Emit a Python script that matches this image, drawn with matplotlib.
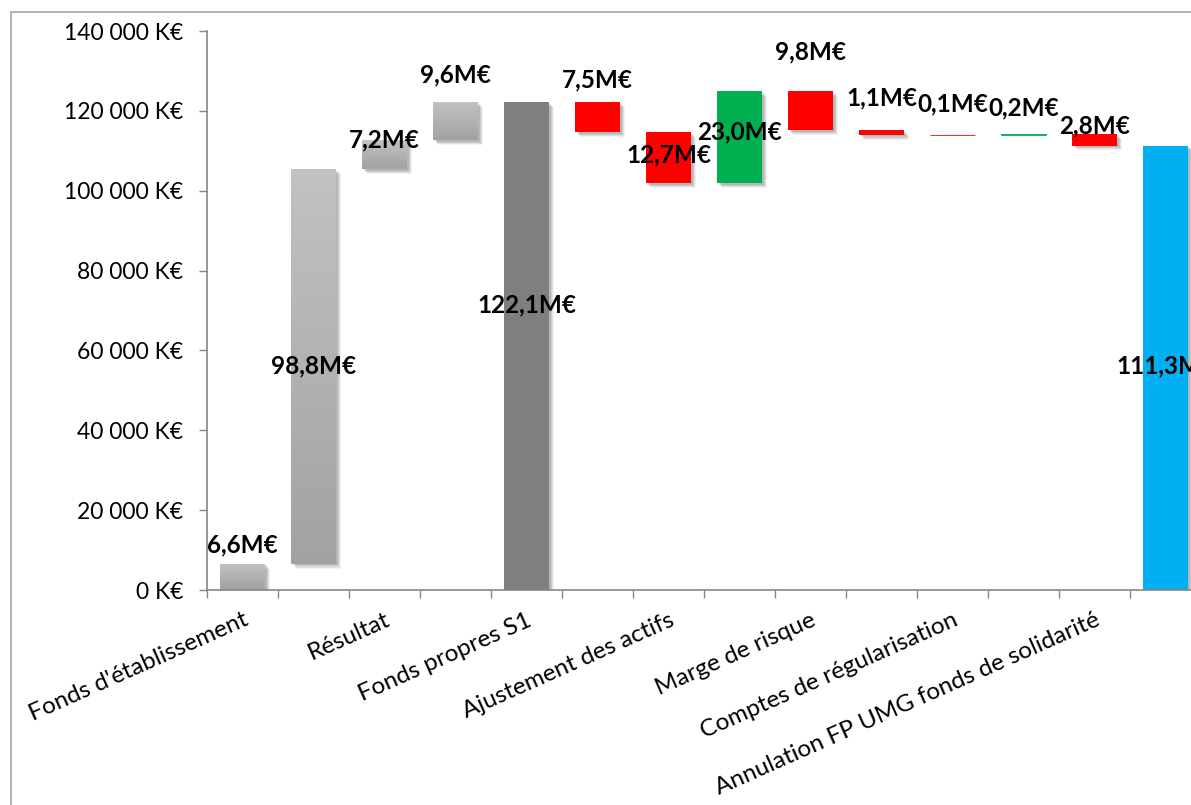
import numpy as np
import matplotlib.pyplot as plt
import matplotlib.patheffects as pe
from matplotlib.colors import LinearSegmentedColormap
from matplotlib.patches import Rectangle
from matplotlib.ticker import FuncFormatter, MultipleLocator

plt.rcParams['font.family'] = ['Lato', 'DejaVu Sans']

# waterfall steps, in K€ (two totals: "Fonds propres S1" and the final one)
categories = ["Fonds d'établissement", "", "Résultat", "", "Fonds propres S1", "",
              "Ajustement des actifs", "", "Marge de risque", "",
              "Comptes de régularisation", "", "Annulation FP UMG fonds de solidarité", ""]
values = [6600, 98800, 7200, 9600, 122100, -7500, -12700, 23000, -9800, -1100,
          -100, 200, -2800, 111300]
is_total = [False, False, False, False, True, False, False, False, False, False,
            False, False, False, True]
# vertical position of each value label, K€
label_y = [11300, 56100, 112700, 129000, 71400, 127700, 109000, 114700, 134700,
           123200, 121700, 120700, 116200, 56100]

fills = ['gray', 'gray', 'gray', 'gray', '#7f7f7f', '#ff0000', '#ff0000', '#00b050',
         '#ff0000', '#ff0000', '#ff0000', '#00b050', '#ff0000', '#00b0f0']

W, H = 1191, 805
fig = plt.figure(figsize=(W / 100, H / 100), dpi=100)
ax = fig.add_axes([207 / W, 1 - 590 / H, 994 / W, 559 / H])

# outer chart frame
fig.patches.append(Rectangle((11 / W, -0.05), 1.2, 1 - 12 / H + 0.05, transform=fig.transFigure,
                             fill=False, edgecolor='#a6a6a6', lw=1.2, zorder=0))

shadow = [pe.SimplePatchShadow(offset=(d, -d), shadow_rgbFace='k', alpha=a)
          for d, a in [(3.5, 0.05), (2.8, 0.07), (2.0, 0.09), (1.2, 0.1)]] + [pe.Normal()]

grey_cmap = LinearSegmentedColormap.from_list('grey_fill', ['#a2a2a2', '#c2c2c2'])
grad = np.linspace(0, 1, 64).reshape(-1, 1)
running = 0
for i, v in enumerate(values):
    if is_total[i]:
        bottom, height = 0, v
        running = v
    else:
        bottom = running if v >= 0 else running + v
        height = abs(v)
        running += v
    color = fills[i]
    face = '#a8a8a8' if color == 'gray' else color
    thin = height < 500
    bar = ax.bar(i, height, bottom=bottom, width=0.63, color=face,
                 edgecolor=face, linewidth=0.6 if thin else 0, zorder=2)[0]
    if not thin:
        bar.set_path_effects(shadow)
    if color == 'gray':
        im = ax.imshow(grad, cmap=grey_cmap,
                       extent=[i - 0.315, i + 0.315, bottom, bottom + height],
                       origin='lower', aspect='auto', zorder=2.5)
        im.set_clip_path(bar)
    txt = f"{abs(v) / 1000:.1f}M€".replace('.', ',')
    ax.text(i, label_y[i], txt, ha='center', va='center', fontsize=17.5,
            fontweight='bold', color='black', zorder=4)

ax.set_xlim(-0.5, len(values) - 0.5)
ax.set_ylim(0, 140000)
ax.set_aspect('auto')

ax.yaxis.set_major_locator(MultipleLocator(20000))
ax.yaxis.set_major_formatter(FuncFormatter(lambda y, _: f"{int(y):,} K€".replace(',', ' ')))
ax.tick_params(axis='y', direction='out', length=6, width=1, color='#868686',
               labelsize=16.5, pad=11)

ax.set_xticks(np.arange(-0.5, len(values), 1))
ax.set_xticklabels([])
ax.tick_params(axis='x', which='major', direction='out', length=6, width=1, color='#868686')
ax.set_xticks(np.arange(len(values)), minor=True)
ax.set_xticklabels(categories, minor=True, rotation=24, ha='right', va='top',
                   rotation_mode='anchor', fontsize=17.5)
ax.tick_params(axis='x', which='minor', length=0, pad=14)

for s in ['top', 'right']:
    ax.spines[s].set_visible(False)
for s in ['left', 'bottom']:
    ax.spines[s].set_color('#868686')
    ax.spines[s].set_linewidth(1.2)

fig.savefig('out.png', dpi=100)
